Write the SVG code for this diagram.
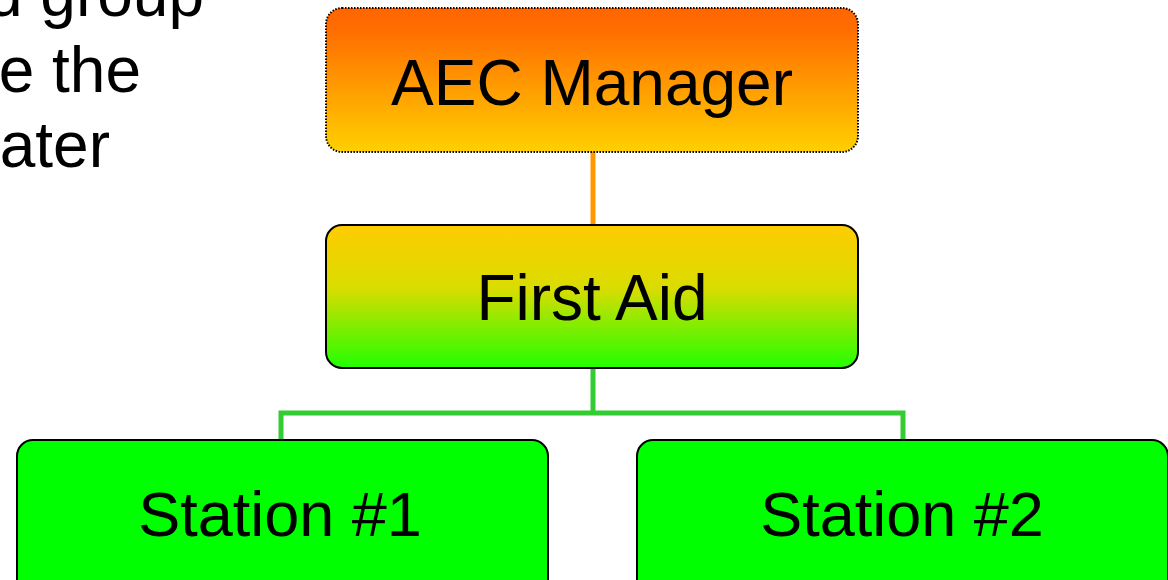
<svg xmlns="http://www.w3.org/2000/svg" width="1168" height="580" viewBox="0 0 1168 580">
<defs>
<linearGradient id="gOrange" x1="0" y1="0" x2="0" y2="1">
<stop offset="0" stop-color="#FF6600"/>
<stop offset="0.15" stop-color="#FF6D00"/>
<stop offset="1" stop-color="#FFD000"/>
</linearGradient>
<linearGradient id="gYG" x1="0" y1="0" x2="0" y2="1">
<stop offset="0" stop-color="#FFCC00"/>
<stop offset="0.45" stop-color="#D8DD00"/>
<stop offset="1" stop-color="#22FF00"/>
</linearGradient>
<style>
text{font-family:"Liberation Sans",Arial,sans-serif;fill:#000}
.lbl{font-size:64px;text-anchor:middle}
.st{font-size:63px}
.side{font-size:64px;text-anchor:end}
.conn{fill:none;stroke-width:5;stroke-linejoin:miter}
.box{stroke:#000;stroke-width:2}
</style>
</defs>
<g id="side-text">
<text class="side" x="204" y="16">d group</text>
<text class="side" x="141" y="92">e the</text>
<text class="side" x="110" y="167">ater</text>
</g>
<g id="connectors">
<line class="conn" x1="593" y1="152" x2="593" y2="225" stroke="#FF9900"/>
<path class="conn" d="M593 368 V413 H281 V440 M593 413 H903 V440" stroke="#33CC33"/>
</g>
<g id="aec-manager">
<rect x="326" y="8" width="532" height="144" rx="16" fill="url(#gOrange)" stroke="#000" stroke-width="2" stroke-dasharray="1.5 1.5"/>
<text class="lbl" x="592" y="105">AEC Manager</text>
</g>
<g id="first-aid">
<rect class="box" x="326" y="225" width="532" height="143" rx="16" fill="url(#gYG)"/>
<text class="lbl" x="592" y="320">First Aid</text>
</g>
<g id="station-1">
<rect class="box" x="17" y="440" width="531" height="160" rx="16" fill="#00FF00"/>
<text class="lbl st" x="280" y="536">Station #1</text>
</g>
<g id="station-2">
<rect class="box" x="637" y="440" width="531" height="160" rx="16" fill="#00FF00"/>
<text class="lbl st" x="902" y="536">Station #2</text>
</g>
</svg>
